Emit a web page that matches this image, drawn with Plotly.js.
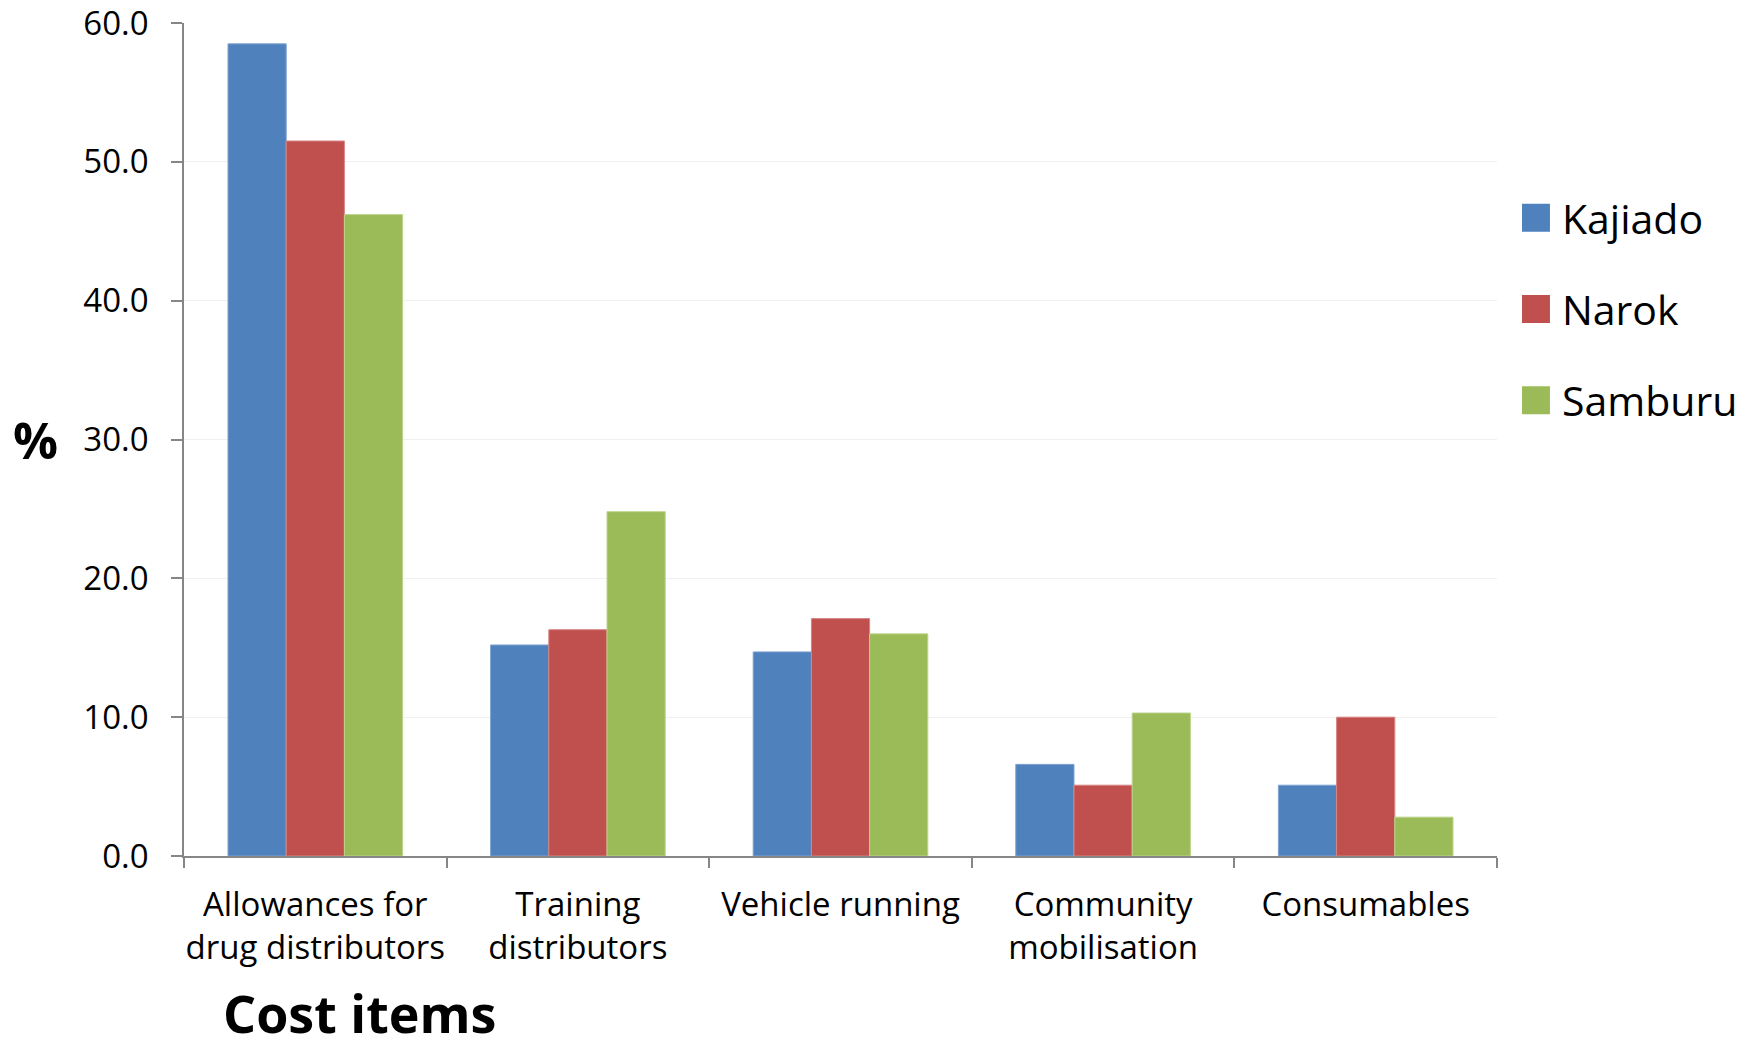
<!DOCTYPE html>
<html>
<head>
<meta charset="utf-8">
<script src="https://cdn.plot.ly/plotly-3.0.1.min.js"></script>
<style>
html,body{margin:0;padding:0;background:#fff;}
#chart{width:1752px;height:1051px;}
</style>
</head>
<body>
<div id="chart"></div>
<script>
var categories = ["Allowances for<br>drug distributors", "Training<br>distributors", "Vehicle running", "Community<br>mobilisation", "Consumables"];
var kajiado = [58.5, 15.2, 14.7, 6.6, 5.1];
var narok = [51.5, 16.3, 17.1, 5.1, 10.0];
var samburu = [46.2, 24.8, 16.0, 10.3, 2.8];
var seriesNames = ["Kajiado", "Narok", "Samburu"];
var yTicks = [0, 10, 20, 30, 40, 50, 60];

var colors = ["#4F81BD", "#C0504D", "#9BBB59"];
var edge = ["#7fa3d1", "#d68583", "#bcd48a"];
var FONT = "Open Sans, Noto Sans, sans-serif";

var data = [kajiado, narok, samburu].map(function (vals, i) {
  return {
    type: "bar",
    name: seriesNames[i],
    x: categories,
    y: vals,
    legendgroup: "g" + i,
    marker: {color: colors[i], line: {color: edge[i], width: 1}},
    hoverinfo: "name+y"
  };
});

var axisColor = "#868686";
var layout = {
  width: 1752,
  height: 1051,
  paper_bgcolor: "#ffffff",
  plot_bgcolor: "#ffffff",
  margin: {l: 184, r: 255, t: 23, b: 195, autoexpand: false},
  barmode: "group",
  bargap: 0.335,
  bargroupgap: 0,
  font: {family: FONT, color: "#000000", size: 33},
  showlegend: true,
  legend: {
    x: 1.019, xanchor: "left",
    y: 0.806, yanchor: "top",
    font: {family: FONT, size: 41, color: "#000000"},
    tracegroupgap: 35,
    traceorder: "grouped",
    bgcolor: "rgba(0,0,0,0)",
    itemclick: false
  },
  xaxis: {
    type: "category",
    showline: true,
    linecolor: axisColor,
    linewidth: 1.5,
    ticks: "outside",
    tickson: "boundaries",
    ticklen: 10,
    tickwidth: 1.5,
    tickcolor: axisColor,
    tickangle: 0,
    showgrid: false,
    zeroline: false,
    automargin: false,
    tickfont: {family: FONT, size: 33, color: "#000000"},
    ticklabelstandoff: 19
  },
  yaxis: {
    range: [0, 60],
    tickvals: yTicks,
    tickformat: ".1f",
    showline: true,
    linecolor: axisColor,
    linewidth: 1.5,
    ticks: "outside",
    ticklen: 11,
    tickwidth: 1.5,
    tickcolor: axisColor,
    showgrid: true,
    gridcolor: "#f0f0f0",
    gridwidth: 1,
    zeroline: false,
    automargin: false,
    ticklabeloverflow: "allow",
    tickfont: {family: FONT, size: 33, color: "#000000"},
    ticklabelstandoff: 16
  },
  annotations: [
    {
      text: "<b>Cost items</b>",
      xref: "paper", yref: "paper",
      x: (221 - 184) / 1313, xanchor: "left",
      y: (856 - 1050) / 833, yanchor: "bottom",
      showarrow: false,
      font: {family: FONT, size: 52, color: "#000000"}
    },
    {
      text: "<b>%</b>",
      xref: "paper", yref: "paper",
      x: (35 - 184) / 1313, xanchor: "center",
      y: (856 - 440) / 833, yanchor: "middle",
      showarrow: false,
      font: {family: FONT, size: 50, color: "#000000"}
    }
  ]
};

Plotly.newPlot("chart", data, layout, {displayModeBar: false}).then(function () {
  document.querySelectorAll(".legend .legendpoints path").forEach(function (p) {
    p.setAttribute("d", "M8,14H-20V-14H8Z");
    p.style.strokeWidth = "0";
  });
});
</script>
</body>
</html>
